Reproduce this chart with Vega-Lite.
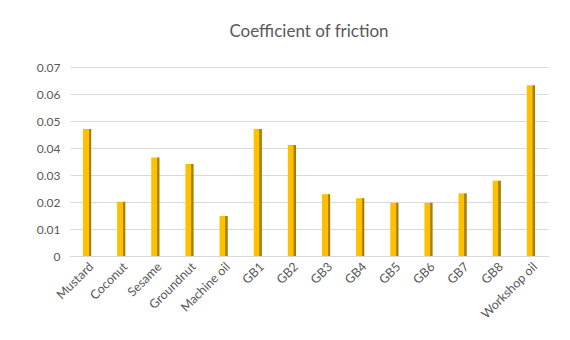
{
  "$schema": "https://vega.github.io/schema/vega-lite/v6.json",
  "autosize": {"type": "none"},
  "width": 478,
  "height": 189,
  "padding": {"left": 70, "top": 67, "right": 22, "bottom": 84},
  "background": "white",
  "title": {"text": "Coefficient of friction", "fontSize": 17, "font": "Lato", "fontWeight": "normal", "color": "#595959", "offset": 20},
  "data": {"values": [
    {"oil": "Mustard", "cof": 0.0470},
    {"oil": "Coconut", "cof": 0.0201},
    {"oil": "Sesame", "cof": 0.0365},
    {"oil": "Groundnut", "cof": 0.0341},
    {"oil": "Machine oil", "cof": 0.0148},
    {"oil": "GB1", "cof": 0.0470},
    {"oil": "GB2", "cof": 0.0411},
    {"oil": "GB3", "cof": 0.0229},
    {"oil": "GB4", "cof": 0.0214},
    {"oil": "GB5", "cof": 0.0197},
    {"oil": "GB6", "cof": 0.0197},
    {"oil": "GB7", "cof": 0.0232},
    {"oil": "GB8", "cof": 0.0279},
    {"oil": "Workshop oil", "cof": 0.0632}
  ]},
  "mark": {
    "type": "bar",
    "color": {"gradient": "linear", "x1": 0, "x2": 1, "y1": 0, "y2": 0,
      "stops": [
        {"offset": 0, "color": "#FFC000"},
        {"offset": 0.68, "color": "#FFC000"},
        {"offset": 0.7, "color": "#B88A00"},
        {"offset": 1, "color": "#A07800"}
      ]}
  },
  "encoding": {
    "x": {"field": "oil", "type": "nominal", "sort": null,
      "scale": {"paddingInner": 0.76, "paddingOuter": 0.38},
      "axis": {"title": null, "labelAngle": -45, "labelAlign": "right", "labelBaseline": "top", "labelFont": "Lato", "labelFontSize": 12.5, "labelColor": "#595959", "ticks": false, "domainColor": "#d9d9d9", "labelPadding": 4}},
    "y": {"field": "cof", "type": "quantitative",
      "scale": {"domain": [0, 0.07]},
      "axis": {"title": null, "values": [0, 0.01, 0.02, 0.03, 0.04, 0.05, 0.06, 0.07], "format": ".2~f", "labelFont": "Lato", "labelFontSize": 12, "labelColor": "#595959", "ticks": false, "domain": false, "gridColor": "#d9d9d9", "labelPadding": 10}}
  },
  "config": {"view": {"stroke": null}}
}
